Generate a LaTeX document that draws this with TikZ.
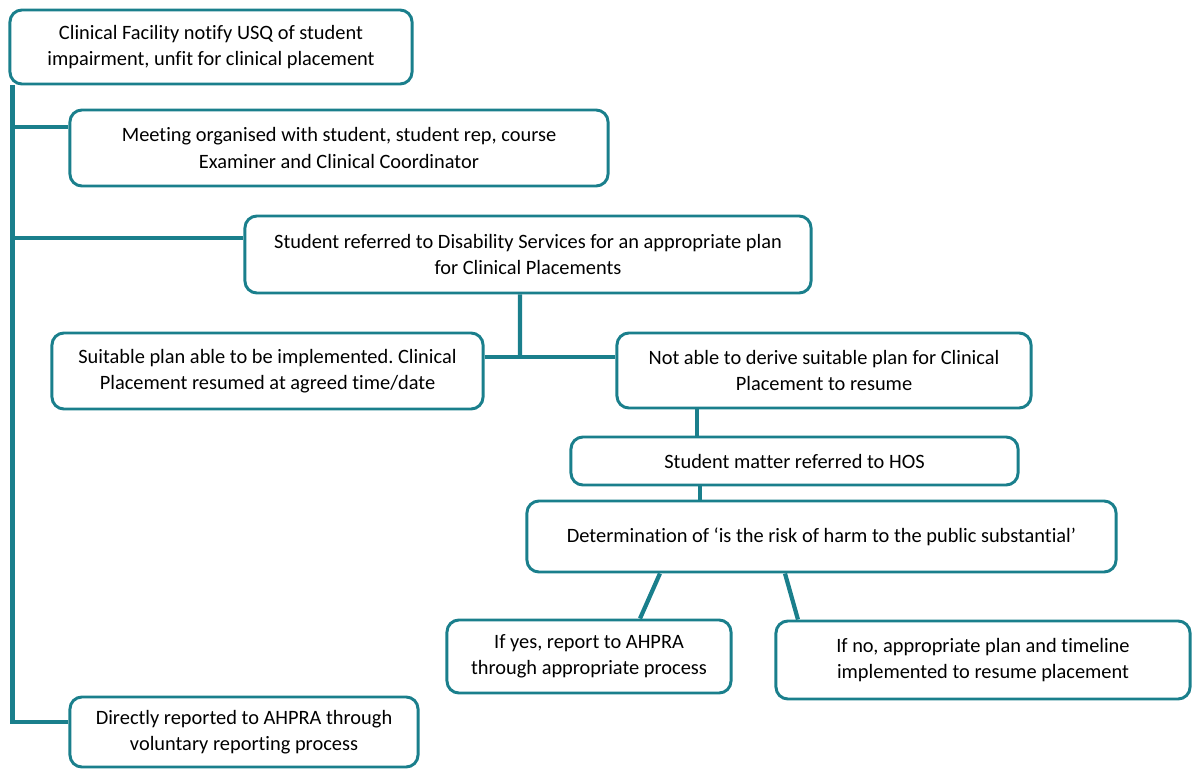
\documentclass[tikz,border=0pt]{standalone}
\usepackage{fontspec}
\setmainfont{Carlito}[Ligatures=NoCommon]
\usepackage{tikz}
\definecolor{teal}{HTML}{1A7F8C}
\frenchspacing
\begin{document}
\begin{tikzpicture}[x=0.025cm,y=-0.025cm,
  box/.style={draw=teal,line width=2.1pt,rounded corners=0.3cm,fill=white,align=center,inner sep=0pt,font=\fontsize{14.5}{18.6}\selectfont},
  link/.style={draw=teal,line width=3pt}]
\useasboundingbox (0,0) rectangle (1192,769);
\node[box,minimum width=10.05cm,minimum height=1.85cm] (A) at (211,47) {Clinical Facility notify USQ of student\\impairment, unfit for clinical placement};
\node[box,minimum width=13.45cm,minimum height=1.9cm] (B) at (339,148) {Meeting organised with student, student rep, course\\Examiner and Clinical Coordinator};
\node[box,minimum width=14.15cm,minimum height=1.925cm] (C) at (528,254.5) {Student referred to Disability Services for an appropriate plan\\for Clinical Placements};
\node[box,minimum width=10.775cm,minimum height=1.9cm] (D) at (267.5,371) {Suitable plan able to be implemented. Clinical\\Placement resumed at agreed time/date};
\node[box,minimum width=10.35cm,minimum height=1.875cm] (E) at (824,370.5) {Not able to derive suitable plan for Clinical\\Placement to resume};
\node[box,minimum width=11.175cm,minimum height=1.2cm] (F) at (794.5,461) {Student matter referred to HOS};
\node[box,minimum width=14.725cm,minimum height=1.775cm] (G) at (821.5,536.5) {Determination of `is the risk of harm to the public substantial'};
\node[box,minimum width=7.1cm,minimum height=1.825cm] (H) at (589,656.5) {If yes, report to AHPRA\\through appropriate process};
\node[box,minimum width=10.35cm,minimum height=1.95cm] (I) at (983,660) {If no, appropriate plan and timeline\\implemented to resume placement};
\node[box,minimum width=8.7cm,minimum height=1.75cm] (J) at (244,732) {Directly reported to AHPRA through\\voluntary reporting process};
% left trunk
\draw[link] ([xshift=0.1cm]A.south west) |- ([yshift=0.25cm]J.west);
\coordinate (b1) at (14,127);
\coordinate (b2) at (14,238);
\draw[link] (b1) -- (b1 -| B.west);
\draw[link] (b2) -- (b2 -| C.west);
% split after referral
\coordinate (m) at (520,357);
\draw[link] ([xshift=-0.2cm]C.south) -- (m);
\draw[link] (m -| D.east) -- (m -| E.west);
\draw[link] ([xshift=-3.175cm]E.south) -- ([xshift=-3.175cm]E.south |- F.north);
\draw[link] ([xshift=-2.3625cm]F.south) -- ([xshift=-2.3625cm]F.south |- G.north);
% outcomes
\draw[link] ([xshift=-4.0375cm]G.south) -- ([xshift=1.275cm]H.north);
\draw[link] ([xshift=-0.9125cm]G.south) -- ([xshift=-4.625cm]I.north);
\end{tikzpicture}
\end{document}
